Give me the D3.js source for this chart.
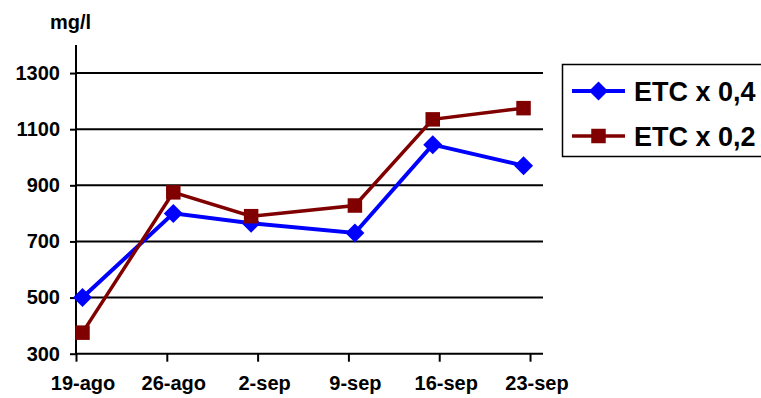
<!DOCTYPE html>
<html>
<head>
<meta charset="utf-8">
<script src="https://cdn.jsdelivr.net/npm/d3@7"></script>
<style>
  html, body { margin: 0; padding: 0; background: #fff; }
  svg { display: block; font-family: "Liberation Sans", Arial, sans-serif; font-weight: bold; }
</style>
</head>
<body>
<svg id="chart" width="761" height="398"></svg>
<script>
// Sampling dates (day of measurement) and weekly axis marks
const sampleDates = ["2005-08-19", "2005-08-26", "2005-09-01", "2005-09-09", "2005-09-15", "2005-09-22"];
const tickDates = ["2005-08-19", "2005-08-26", "2005-09-02", "2005-09-09", "2005-09-16", "2005-09-23"];
const tickLabels = ["19-ago", "26-ago", "2-sep", "9-sep", "16-sep", "23-sep"];
const axisStart = "2005-08-19";
const axisEnd = "2005-09-24";

// Concentration (mg/l) for each irrigation treatment
const seriesNames = ["ETC x 0,4", "ETC x 0,2"];
const etc04 = [500, 800, 765, 730, 1045, 970];
const etc02 = [375, 875, 790, 828, 1135, 1175];

const yTicks = [300, 500, 700, 900, 1100, 1300];
const yDomain = [300, 1400];

const parse = d3.utcParse("%Y-%m-%d");
const DAY = 864e5;
const mid = s => new Date(parse(s).getTime() + DAY / 2);

const svg = d3.select("#chart");
const plotLeft = 76, plotRight = 543, plotTop = 45, plotBottom = 353.7;

const x = d3.scaleUtc().domain([parse(axisStart), parse(axisEnd)]).range([plotLeft, plotRight]);
const y = d3.scaleLinear().domain(yDomain).range([plotBottom, plotTop]);
const halfDay = x(mid(axisStart)) - x(parse(axisStart));

// Horizontal gridlines
svg.append("g")
  .selectAll("line")
  .data(yTicks.filter(v => v > yDomain[0]))
  .join("line")
  .attr("x1", plotLeft).attr("x2", plotRight)
  .attr("y1", d => y(d)).attr("y2", d => y(d))
  .attr("stroke", "#000").attr("stroke-width", 2);

// Y axis
const yAxis = svg.append("g")
  .attr("transform", `translate(${plotLeft},0)`)
  .call(d3.axisLeft(y).tickValues(yTicks).tickSize(6).tickPadding(10).tickFormat(d3.format("d")));
yAxis.select(".domain").attr("stroke", "#000").attr("stroke-width", 2).attr("d", `M0,${plotBottom}V${plotTop}`);
yAxis.selectAll(".tick line").attr("stroke", "#000").attr("stroke-width", 2);
yAxis.selectAll("text").attr("font-size", 20).attr("font-weight", "bold")
  .attr("font-family", "'Liberation Sans', Arial, sans-serif").attr("fill", "#000");

// X axis (date axis, labels centred on each day)
const tickIdx = new Map(tickDates.map((d, i) => [+parse(d), tickLabels[i]]));
const xAxis = svg.append("g")
  .attr("transform", `translate(0,${plotBottom})`)
  .call(d3.axisBottom(x).tickValues(tickDates.map(parse)).tickSize(8).tickPadding(14)
    .tickFormat(d => tickIdx.get(+d)));
xAxis.select(".domain").attr("stroke", "#000").attr("stroke-width", 2).attr("d", `M${plotLeft},0H${plotRight}`);
xAxis.selectAll(".tick line").attr("stroke", "#000").attr("stroke-width", 2);
xAxis.selectAll("text").attr("x", halfDay).attr("font-size", 20).attr("font-weight", "bold")
  .attr("font-family", "'Liberation Sans', Arial, sans-serif").attr("fill", "#000");

// Unit label
svg.append("text").attr("x", 50).attr("y", 29).attr("font-size", 20).text("mg/l");

const series = [
  { name: seriesNames[0], values: etc04, color: "#0000ff", width: 4, shape: "diamond" },
  { name: seriesNames[1], values: etc02, color: "#800000", width: 3.5, shape: "square" }
];

const diamond = r => `M0,${-r}L${r},0L0,${r}L${-r},0Z`;
const square = s => `M${-s / 2},${-s / 2}h${s}v${s}h${-s}Z`;
const markerPath = shape => shape === "diamond" ? diamond(9.5) : square(14.5);

const line = d3.line().x(d => x(d.date)).y(d => y(d.value));

series.forEach(s => {
  const pts = s.values.map((v, i) => ({ date: mid(sampleDates[i]), value: v }));
  const g = svg.append("g");
  g.append("path").datum(pts).attr("d", line)
    .attr("fill", "none").attr("stroke", s.color).attr("stroke-width", s.width)
    .attr("stroke-linejoin", "miter");
  g.selectAll("path.mk").data(pts).join("path").attr("class", "mk")
    .attr("transform", d => `translate(${x(d.date)},${y(d.value)})`)
    .attr("d", markerPath(s.shape)).attr("fill", s.color);
});

// Legend
const lg = svg.append("g");
lg.append("rect").attr("x", 562.5).attr("y", 64.5).attr("width", 210).attr("height", 92)
  .attr("fill", "#fff").attr("stroke", "#000").attr("stroke-width", 1.5);
series.forEach((s, i) => {
  const cy = 91 + i * 45;
  lg.append("line").attr("x1", 572).attr("x2", 625).attr("y1", cy).attr("y2", cy)
    .attr("stroke", s.color).attr("stroke-width", s.width);
  lg.append("path").attr("transform", `translate(598.5,${cy})`).attr("d", markerPath(s.shape)).attr("fill", s.color);
  lg.append("text").attr("x", 634).attr("y", cy + 10).attr("font-size", 27).text(s.name);
});
</script>
</body>
</html>
